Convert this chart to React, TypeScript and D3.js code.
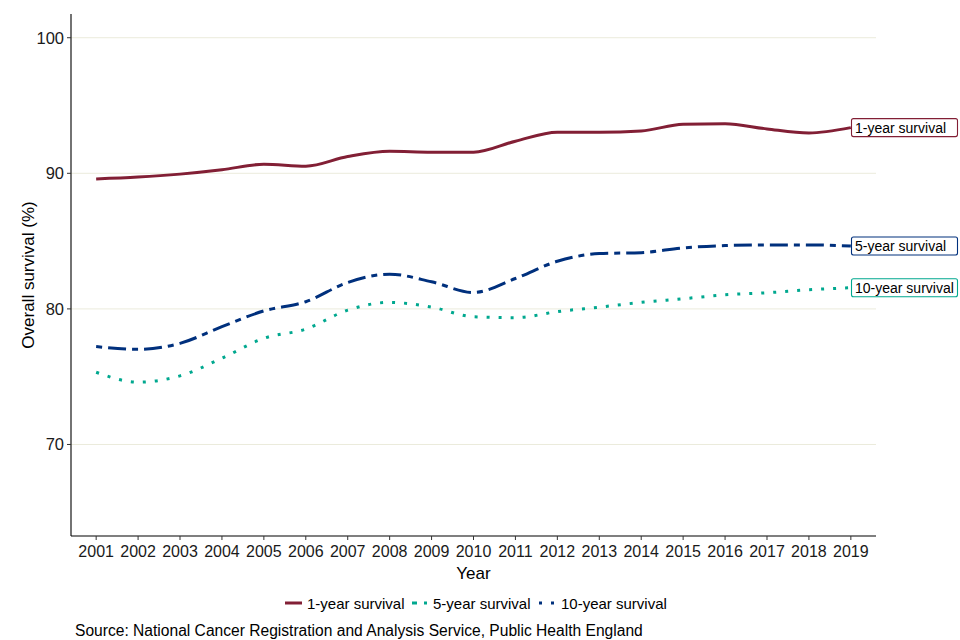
import React from "react";
import * as d3 from "d3";

const years = [2001, 2002, 2003, 2004, 2005, 2006, 2007, 2008, 2009, 2010, 2011, 2012, 2013, 2014, 2015, 2016, 2017, 2018, 2019];
const oneYear = [89.58, 89.72, 89.94, 90.26, 90.67, 90.53, 91.24, 91.63, 91.56, 91.56, 92.37, 93.03, 93.03, 93.12, 93.62, 93.66, 93.27, 92.98, 93.37];
const fiveYear = [77.22, 77.02, 77.46, 78.69, 79.85, 80.53, 81.95, 82.56, 82.0, 81.21, 82.24, 83.51, 84.08, 84.15, 84.5, 84.67, 84.72, 84.72, 84.64];
const tenYear = [75.33, 74.6, 75.06, 76.36, 77.83, 78.51, 79.91, 80.48, 80.13, 79.42, 79.35, 79.8, 80.13, 80.48, 80.75, 81.04, 81.19, 81.41, 81.56];
const yTicks = [70, 80, 90, 100];
const seriesNames = ["1-year survival", "5-year survival", "10-year survival"];

const series = [
  { name: seriesNames[0], values: oneYear, color: "#821f35", dash: "none" },
  { name: seriesNames[1], values: fiveYear, color: "#00307d", dash: "6,6,18,6" },
  { name: seriesNames[2], values: tenYear, color: "#00a88f", dash: "3,9" },
];

// legend (as in the reference: 5-year key teal, 10-year key navy)
const legendItems = [
  { name: seriesNames[0], color: "#821f35", dash: "none" },
  { name: seriesNames[1], color: "#00a88f", dash: "5,7,3,20" },
  { name: seriesNames[2], color: "#00307d", dash: "3,9" },
];

const W = 960;
const H = 640;
const left = 71;
const right = 876;
const top = 14;
const bottom = 536;
const font = "'Liberation Sans', Arial, sans-serif";

export default function App() {
  const x = d3.scaleLinear().domain([2000.4, 2019.6]).range([left, right]);
  const y = d3.scaleLinear().domain([63.25, 101.75]).range([bottom, top]);
  const line = d3
    .line<number>()
    .x((_, i) => x(years[i]))
    .y((d) => y(d))
    .curve(d3.curveMonotoneX);

  const legendX = [285, 412, 539];
  const legendTextX = [307, 433, 561];

  return (
    <svg
      width={W}
      height={H}
      viewBox={`0 0 ${W} ${H}`}
      style={{ position: "absolute", left: 0, top: 0, background: "#fff" }}
      fontFamily={font}
    >
      <rect x={0} y={0} width={W} height={H} fill="#fff" />
      {yTicks.map((t) => (
        <line key={t} x1={left} x2={right} y1={y(t)} y2={y(t)} stroke="#ebebdc" strokeWidth={1} />
      ))}
      {series.map((s) => (
        <path
          key={s.name}
          d={line(s.values) || ""}
          fill="none"
          stroke={s.color}
          strokeWidth={3}
          strokeDasharray={s.dash}
          strokeLinecap="butt"
        />
      ))}
      {/* axes */}
      <line x1={left} x2={left} y1={top} y2={bottom} stroke="#000" strokeWidth={1.1} />
      <line x1={left} x2={right} y1={bottom} y2={bottom} stroke="#000" strokeWidth={1.1} />
      {yTicks.map((t) => (
        <g key={t}>
          <line x1={left - 4} x2={left} y1={y(t)} y2={y(t)} stroke="#333" />
          <text x={left - 7} y={y(t)} dy="0.36em" textAnchor="end" fontSize={16.5} fill="#1a1a1a">
            {t}
          </text>
        </g>
      ))}
      {years.map((yr) => (
        <g key={yr}>
          <line x1={x(yr)} x2={x(yr)} y1={bottom} y2={bottom + 4} stroke="#333" />
          <text x={x(yr)} y={557} textAnchor="middle" fontSize={16} fill="#1a1a1a">
            {yr}
          </text>
        </g>
      ))}
      <text x={(left + right) / 2} y={579} textAnchor="middle" fontSize={17} fill="#000">
        Year
      </text>
      <text
        transform={`translate(34, ${(top + bottom) / 2}) rotate(-90)`}
        textAnchor="middle"
        fontSize={17}
        fill="#000"
      >
        Overall survival (%)
      </text>
      {/* end labels */}
      {series.map((s) => {
        const v = s.values[s.values.length - 1];
        const cy = y(v);
        return (
          <g key={s.name}>
            <rect x={851.5} y={cy - 9} width={106} height={18} rx={2} fill="#fff" stroke={s.color} strokeWidth={1.1} />
            <text x={855} y={cy} dy="0.36em" fontSize={14} fill="#000">
              {s.name}
            </text>
          </g>
        );
      })}
      {/* legend */}
      {legendItems.map((l, i) => (
        <g key={l.name}>
          <line
            x1={legendX[i]}
            x2={legendX[i] + 17}
            y1={603}
            y2={603}
            stroke={l.color}
            strokeWidth={3}
            strokeDasharray={l.dash}
          />
          <text x={legendTextX[i]} y={604} dy="0.36em" fontSize={15} fill="#000">
            {l.name}
          </text>
        </g>
      ))}
      <text x={75} y={636} fontSize={15.6} fill="#000">
        Source: National Cancer Registration and Analysis Service, Public Health England
      </text>
    </svg>
  );
}
